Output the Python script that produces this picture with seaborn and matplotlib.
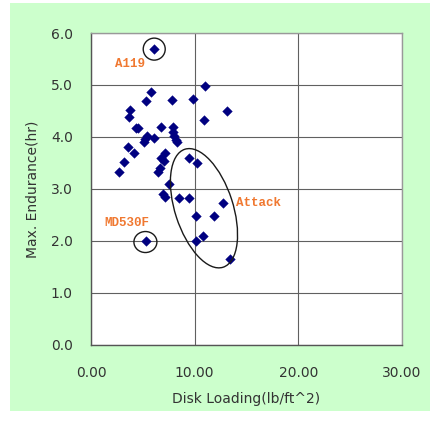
import numpy as np
import pandas as pd
import matplotlib
matplotlib.use("Agg")
import matplotlib.pyplot as plt
import matplotlib.patches as mpatches
import matplotlib.transforms as mtransforms
import seaborn as sns

# Rotorcraft survey: disk loading vs. maximum endurance
disk_loading = [6.1, 11.0, 5.8, 5.3, 7.8, 9.8, 13.1, 3.8, 3.7, 10.9,
                4.3, 4.5, 6.8, 7.9, 7.9, 8.0, 8.2, 8.25, 5.45, 5.1,
                5.25, 6.1, 3.6, 4.15, 3.2, 2.75, 7.15, 6.8, 7.05, 9.45,
                10.25, 6.7, 6.5, 7.55, 6.9, 7.15, 8.5, 9.45, 12.7, 10.15,
                11.85, 10.8, 10.1, 5.3, 13.4]
endurance = [5.69, 4.98, 4.86, 4.70, 4.71, 4.74, 4.50, 4.51, 4.39, 4.33,
             4.18, 4.17, 4.19, 4.20, 4.10, 4.01, 3.94, 3.90, 4.01, 3.90,
             3.96, 3.99, 3.80, 3.70, 3.51, 3.32, 3.70, 3.59, 3.54, 3.59,
             3.50, 3.40, 3.32, 3.09, 2.91, 2.85, 2.83, 2.83, 2.74, 2.49,
             2.49, 2.10, 2.00, 2.00, 1.66]

x_ticks = [0, 10, 20, 30]
x_tick_labels = ["0.00", "10.00", "20.00", "30.00"]
y_ticks = [0, 1, 2, 3, 4, 5, 6]
y_tick_labels = ["0.0", "1.0", "2.0", "3.0", "4.0", "5.0", "6.0"]

df = pd.DataFrame({"Disk Loading": disk_loading, "Max. Endurance": endurance})

sns.set_style("white")
plt.rcParams["font.family"] = ["DejaVu Sans"]

fig = plt.figure(figsize=(4.31, 4.22), dpi=100, facecolor="white")
panel = mpatches.Rectangle((0.0232, 0.026), 1.0 - 0.0232, 0.9929 - 0.026,
                           transform=fig.transFigure, facecolor="#CCFFCC",
                           edgecolor="none", zorder=-10)
fig.patches.append(panel)
ax = fig.add_axes([0.2111, 0.1825, 0.9327 - 0.2111, 0.9218 - 0.1825])
ax.set_zorder(1)
ax.set_facecolor("white")

sns.scatterplot(data=df, x="Disk Loading", y="Max. Endurance", marker="D", s=24,
                color="#000080", edgecolor="#000080", linewidth=0.3, ax=ax, zorder=3)

ax.set_xlim(0, 30)
ax.set_ylim(0, 6)
ax.set_xticks(x_ticks)
ax.set_xticklabels(x_tick_labels)
ax.set_yticks(y_ticks)
ax.set_yticklabels(y_tick_labels)
ax.tick_params(axis="both", length=0, labelsize=10, labelcolor="#333333")
ax.tick_params(axis="x", pad=15)
ax.tick_params(axis="y", pad=13)
ax.grid(True, color="#606060", linewidth=0.8)
ax.set_axisbelow(True)
for side in ["top", "right"]:
    ax.spines[side].set_color("#999999")
for side in ["left", "bottom"]:
    ax.spines[side].set_color("#555555")
for sp in ax.spines.values():
    sp.set_linewidth(1.0)

ax.set_xlabel("Disk Loading(lb/ft^2)", fontsize=10, color="#333333", labelpad=9)
ax.set_ylabel("Max. Endurance(hr)", fontsize=10, color="#333333", labelpad=8)


def ring(cx, cy, w_in, h_in, angle=0):
    """Ellipse sized in inches, anchored at a data point."""
    trans = fig.dpi_scale_trans + mtransforms.ScaledTranslation(cx, cy, ax.transData)
    e = mpatches.Ellipse((0, 0), w_in, h_in, angle=angle, transform=trans,
                         facecolor="none", edgecolor="#1a1a1a", linewidth=1.0, zorder=4)
    ax.add_patch(e)


ring(6.1, 5.69, 0.22, 0.22)
ring(5.25, 1.98, 0.23, 0.21)
ring(10.9, 2.63, 0.58, 1.24, angle=18)

label_style = dict(color="#F07830", fontsize=9, fontweight="bold",
                   family=["Liberation Mono", "DejaVu Sans Mono"],
                   ha="left", va="center", zorder=5)
ax.text(2.3, 5.40, "A119", **label_style)
ax.text(1.3, 2.34, "MD530F", **label_style)
ax.text(14.0, 2.74, "Attack", **label_style)

fig.savefig("out.png", dpi=100, facecolor=fig.get_facecolor())
